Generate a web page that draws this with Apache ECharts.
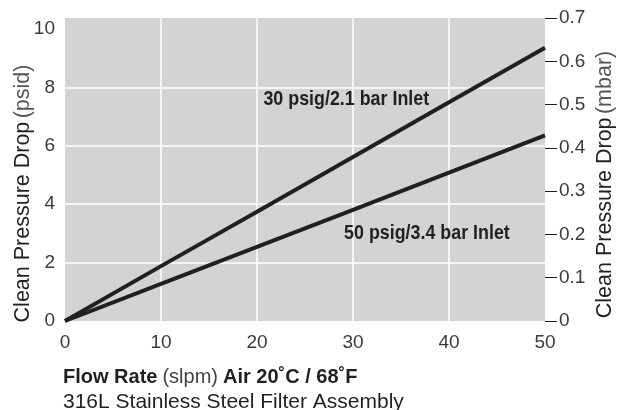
<!DOCTYPE html>
<html><head><meta charset="utf-8">
<script src="https://cdn.jsdelivr.net/npm/echarts@6/dist/echarts.min.js"></script>
<style>html,body{margin:0;padding:0;background:#fff}#c{width:625px;height:410px}</style>
</head><body><div id="c"></div>
<script>
// Data
const flowRate = [0, 10, 20, 30, 40, 50];                 // slpm
const inlet30 = [0, 1.88, 3.74, 5.62, 7.49, 9.36];         // psid
const inlet50 = [0, 1.27, 2.54, 3.81, 5.08, 6.36];         // psid
const seriesNames = ['30 psig/2.1 bar Inlet', '50 psig/3.4 bar Inlet'];
const leftTickLabels = [0, 2, 4, 6, 8, 10];
const rightTickLabels = [0, 0.1, 0.2, 0.3, 0.4, 0.5, 0.6, 0.7];

const F = "'Liberation Sans', Arial, Helvetica, sans-serif";
const INK = '#231f20';
const BG = '#d1d3d4';

const chart = echarts.init(document.getElementById('c'), null, {renderer: 'canvas'});

const toPairs = (xs, ys) => xs.map((x, i) => [x, ys[i]]);

const titleRich = {
  a: {fontSize: 21.5, fontFamily: F, color: INK},
  b: {fontSize: 21.5, fontFamily: F, color: '#555'}
};

const option = {
  animation: false,
  grid: {left: 65, right: 80, top: 18, bottom: 89, show: true, backgroundColor: BG, borderWidth: 0,
    containLabel: false, outerBoundsMode: 'none'},
  title: {
    left: 58, top: 360,
    text: '{b|Flow Rate} {l|(slpm)} {b|Air 20˚C / 68˚F}\n{m|316L Stainless Steel Filter Assembly}',
    textStyle: {
      fontWeight: 'normal',
      rich: {
        b: {fontSize: 20, fontWeight: 'bold', fontFamily: F, color: INK, lineHeight: 25},
        l: {fontSize: 20, fontWeight: 'normal', fontFamily: F, color: '#444', lineHeight: 25},
        m: {fontSize: 21, fontWeight: 'normal', fontFamily: F, color: INK, lineHeight: 25}
      }
    }
  },
  xAxis: {
    type: 'value', min: 0, max: 50, interval: 10,
    axisLine: {show: false}, axisTick: {show: false},
    axisLabel: {color: '#3a3a3a', fontSize: 19, fontFamily: F, margin: 12},
    splitLine: {show: true, showMinLine: false, showMaxLine: false, lineStyle: {color: '#fff', width: 1.5}}
  },
  yAxis: [
    {
      type: 'value', position: 'left', min: 0, max: 10.38, interval: 2,
      axisLine: {show: false}, axisTick: {show: false},
      axisLabel: {color: '#3a3a3a', fontSize: 19, fontFamily: F, margin: 10,
        formatter: v => leftTickLabels.includes(v) ? String(v) : ''},
      splitLine: {show: true, showMinLine: false, showMaxLine: false,
        lineStyle: {color: ['#fff', '#fff', '#fff', '#fff', BG], width: 1.5}},
      name: '{a|Clean Pressure Drop} {b|(psid)}',
      nameLocation: 'middle', nameRotate: 90, nameGap: 31, nameMoveOverlap: false,
      nameTextStyle: {rich: titleRich, padding: [0, 48, 0, 0]}
    },
    {
      type: 'value', position: 'right', min: 0, max: 0.7, interval: 0.1,
      axisLine: {show: false},
      axisTick: {show: true, inside: false, length: 12, lineStyle: {color: INK, width: 1}},
      axisLabel: {color: '#3a3a3a', fontSize: 19, fontFamily: F, margin: 14,
        formatter: v => rightTickLabels.some(t => Math.abs(t - v) < 1e-9) ? String(+v.toFixed(1)) : ''},
      splitLine: {show: false},
      name: '{a|Clean Pressure Drop} {b|(mbar)}',
      nameLocation: 'middle', nameRotate: 90, nameGap: 49, nameMoveOverlap: false,
      nameTextStyle: {rich: titleRich, padding: [0, 30, 0, 0]}
    }
  ],
  series: [
    {name: seriesNames[0], type: 'line', yAxisIndex: 0, data: toPairs(flowRate, inlet30),
      showSymbol: false, symbol: 'none', lineStyle: {color: INK, width: 4}, z: 3},
    {name: seriesNames[1], type: 'line', yAxisIndex: 0, data: toPairs(flowRate, inlet50),
      showSymbol: false, symbol: 'none', lineStyle: {color: INK, width: 4}, z: 3}
  ]
};
chart.setOption(option);

// Series labels anchored in data coordinates (condensed via horizontal scale)
const labelAnchors = [[29.3, 7.6], [37.7, 3.0]];
const graphics = labelAnchors.map((p, i) => {
  const px = chart.convertToPixel({xAxisIndex: 0, yAxisIndex: 0}, p);
  return {
    type: 'text', x: px[0], y: px[1], z: 10, scaleX: 0.85,
    style: {text: seriesNames[i], fill: INK, font: 'bold 21px ' + F, align: 'center', verticalAlign: 'middle'}
  };
});
chart.setOption({graphic: graphics});
</script>
</body></html>
